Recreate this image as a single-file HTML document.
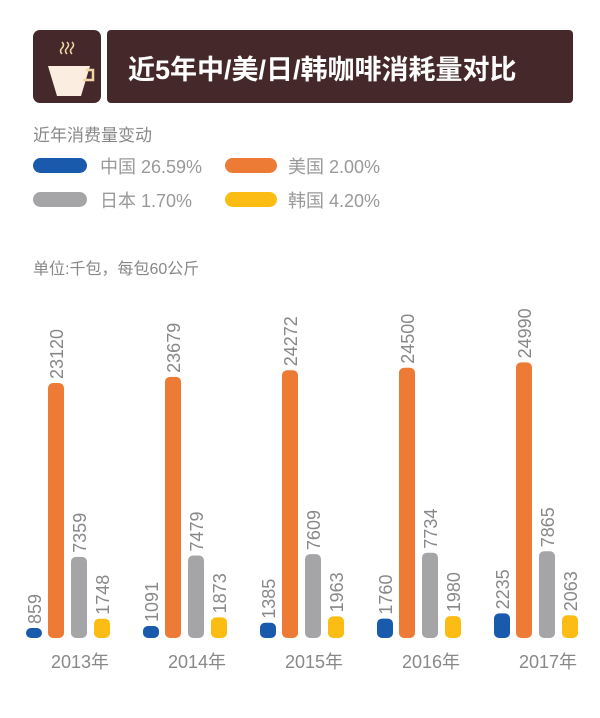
<!DOCTYPE html>
<html><head><meta charset="utf-8"><style>
body{margin:0;background:#fff;width:600px;height:713px;overflow:hidden;font-family:"Liberation Sans","Noto Sans CJK SC",sans-serif;}
</style></head><body>
<svg width="600" height="713" xmlns="http://www.w3.org/2000/svg" font-family="Liberation Sans, Noto Sans CJK SC, sans-serif">
<rect x="33" y="30" width="68" height="73" rx="7" fill="#45292a"/>
<rect x="107" y="30" width="466" height="73" rx="4" fill="#45292a"/>
<path d="M62 42 q3 3 0 6 q-3 3 0 6 M67 42 q3 3 0 6 q-3 3 0 6 M72 42 q3 3 0 6 q-3 3 0 6" stroke="#f2d6a8" stroke-width="1.5" fill="none"/>
<path d="M48 66 h42 l-9 30 h-24 z" fill="#fbeee0"/>
<path d="M86 70 h7 v10 h-10" stroke="#f2d6a8" stroke-width="2.5" fill="none"/>
<text x="128" y="79" font-size="27" font-weight="bold" fill="#fff">近5年中/美/日/韩咖啡消耗量对比</text>
<text x="33" y="141" font-size="17" fill="#888">近年消费量变动</text>
<rect x="33" y="158" width="54" height="15" rx="7.5" fill="#1a5aad"/>
<text x="100" y="173" font-size="18" fill="#999">中国 26.59%</text>
<rect x="225" y="158" width="52" height="15" rx="7.5" fill="#ed7a35"/>
<text x="288" y="173" font-size="18" fill="#999">美国 2.00%</text>
<rect x="33" y="192" width="54" height="15" rx="7.5" fill="#a5a5a7"/>
<text x="100" y="207" font-size="18" fill="#999">日本 1.70%</text>
<rect x="225" y="192" width="52" height="15" rx="7.5" fill="#fbbd13"/>
<text x="288" y="207" font-size="18" fill="#999">韩国 4.20%</text>
<text x="33" y="274" font-size="16" fill="#888">单位:千包，每包60公斤</text>
<g id="bars"></g>
</svg>
<script>
var data=[[2013,859,23120,7359,1748],[2014,1091,23679,7479,1873],[2015,1385,24272,7609,1963],[2016,1760,24500,7734,1980],[2017,2235,24990,7865,2063]];
var cols=["#1a5aad","#ed7a35","#a5a5a7","#fbbd13"],xs=[26,48,71,94],base=638,k=255/23120;
var s="";
data.forEach(function(d,g){var o=g*117;
for(var i=0;i<4;i++){var h=Math.max(10,d[i+1]*k),x=xs[i]+o,y=base-h;
s+='<rect x="'+x+'" y="'+y+'" width="16" height="'+h+'" rx="5" fill="'+cols[i]+'"/>';
s+='<text transform="translate('+(x+15)+','+(y-4)+') rotate(-90)" font-size="18" fill="#888">'+d[i+1]+'</text>';}
s+='<text x="'+(80+o)+'" y="668" text-anchor="middle" font-size="18" fill="#888">'+d[0]+'年</text>';});
document.getElementById("bars").innerHTML=s;
</script>
</body></html>
